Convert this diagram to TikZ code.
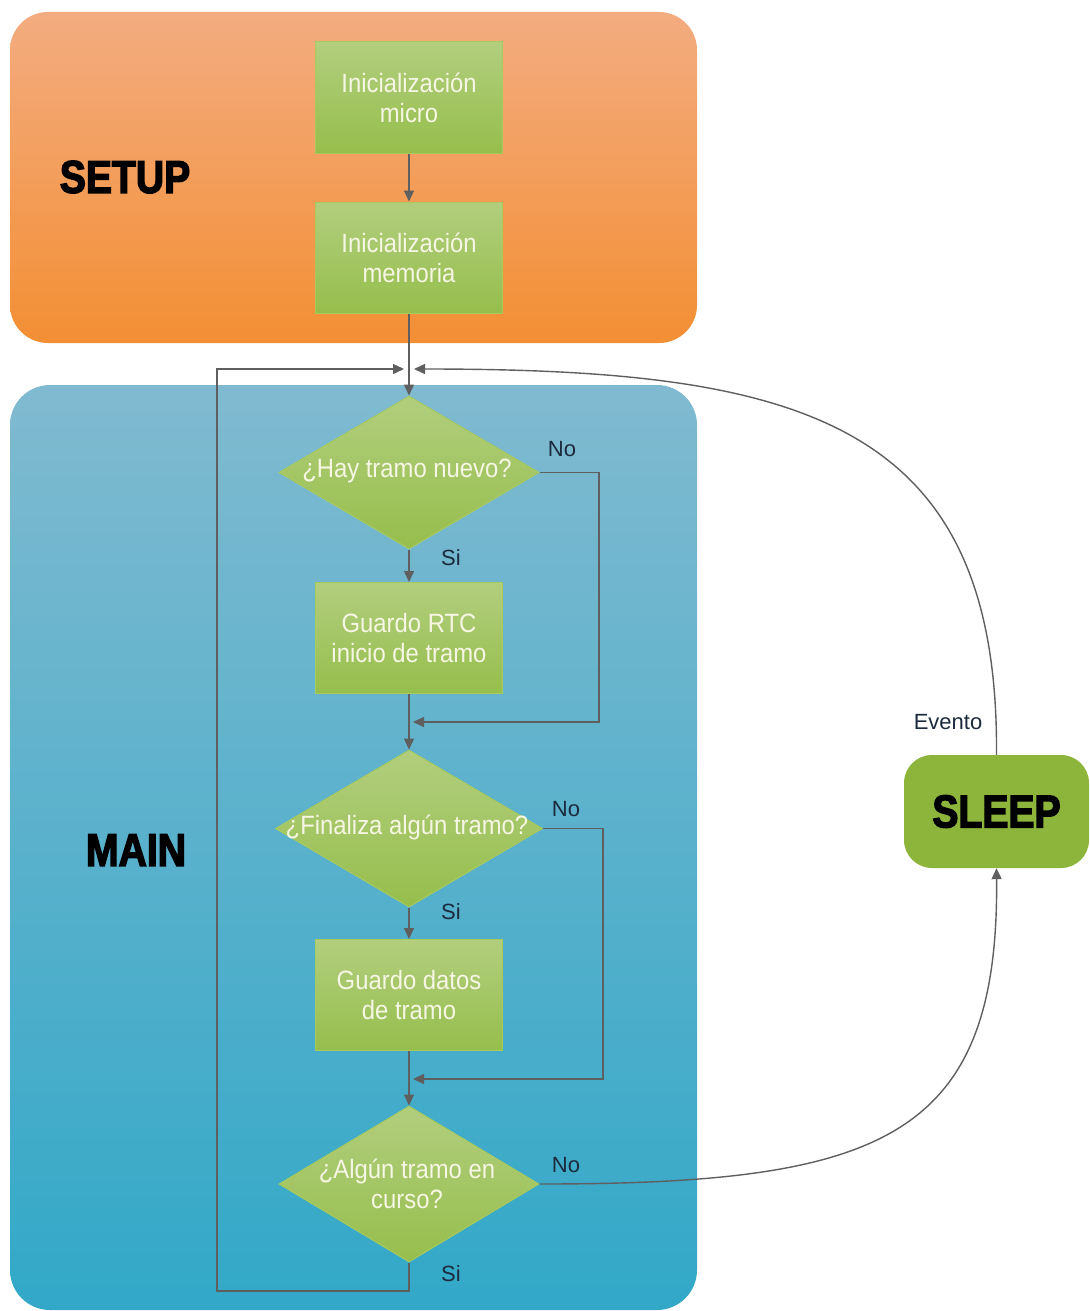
\documentclass[tikz,border=0pt]{standalone}
\usepackage{fontspec}
\setmainfont{Liberation Sans}
\newfontfamily\boxfont[FakeStretch=0.9]{Liberation Sans}
\newfontfamily\dispfont{Liberation Sans}[BoldFeatures={FakeBold=3,FakeStretch=0.85}]
\usetikzlibrary{shapes.geometric,arrows.meta}

\definecolor{orangeTop}{RGB}{243,172,128}
\definecolor{orangeBot}{RGB}{243,143,52}
\definecolor{blueTop}{RGB}{128,186,208}
\definecolor{blueBot}{RGB}{50,168,200}
\definecolor{greenTop}{RGB}{178,206,126}
\definecolor{greenBot}{RGB}{150,190,76}
\definecolor{greenEdge}{RGB}{168,202,92}
\definecolor{sleepGreen}{RGB}{141,181,60}
\definecolor{lineGray}{RGB}{95,95,95}
\definecolor{labelNavy}{RGB}{28,42,62}
\definecolor{boxText}{RGB}{246,246,228}

\tikzset{
  procbox/.style={rectangle, minimum width=187pt, minimum height=111pt,
    top color=greenTop, bottom color=greenBot, draw=greenEdge, line width=1pt,
    align=center, text=boxText, font=\boxfont\fontsize{26.5}{30}\selectfont},
  decision/.style={diamond, minimum width=#1, inner sep=0pt,
    top color=greenTop, bottom color=greenBot, draw=greenEdge, line width=1pt},
  dtext/.style={align=center, text=boxText, font=\boxfont\fontsize{26.5}{30}\selectfont},
  branchlabel/.style={text=labelNavy, font=\fontsize{22}{26}\selectfont},
  title/.style={text=black, font=\dispfont\bfseries\fontsize{46}{50}\selectfont},
  arr/.style={draw=lineGray, line width=1.4pt, -{Triangle[length=11pt,width=10pt]}},
}

\begin{document}
\begin{tikzpicture}[x=1pt,y=-1pt]
\useasboundingbox (0,0) rectangle (1089,1311);

% panels
\path[rounded corners=38pt, top color=orangeTop, bottom color=orangeBot]
  (10,12) rectangle (697,343);
\path[rounded corners=40pt, top color=blueTop, bottom color=blueBot]
  (10,385) rectangle (697,1310);

\node[title] (setup) at (125,177) {SETUP};
\node[title] (main) at (136,850) {MAIN};

% setup steps
\node[procbox] (init1) at (409,97.5) {Inicialización\\micro};
\node[procbox] (init2) at (409,257.5) {Inicialización\\memoria};

% main loop
\node[decision=260pt, minimum height=153pt] (d1) at (409,472.5) {};
\node[dtext] (d1t) at (407,471) {¿Hay tramo nuevo?};
\node[procbox] (rtc) at (409,638) {Guardo RTC\\inicio de tramo};
\node[decision=267pt, minimum height=157pt] (d2) at (409,828.5) {};
\node[dtext] (d2t) at (407,827) {¿Finaliza algún tramo?};
\node[procbox] (datos) at (409,995) {Guardo datos\\de tramo};
\node[decision=260pt, minimum height=156pt] (d3) at (409,1184) {};
\node[dtext] (d3t) at (407,1184) {¿Algún tramo en\\curso?};

% sleep state
\node[rectangle, rounded corners=28pt, fill=sleepGreen, minimum width=185pt,
  minimum height=113pt, title] (sleep) at (996.5,811.5) {SLEEP};

% routing points
\coordinate (joinL) at (404,369);
\coordinate (joinR) at (414,369);
\coordinate (m1) at (413,722);
\coordinate (m2) at (413,1079);
\coordinate (n1) at (599,472.5);
\coordinate (n2) at (603,828.5);
\coordinate (loopB) at (409,1291);
\coordinate (loopL) at (217,1291);

% connectors
\draw[arr] (init1) -- (init2);
\draw[arr] (init2) -- (d1.north);
\draw[arr] (d1.south) -- (rtc);
\draw[arr] (rtc) -- (d2.north);
\draw[arr] (d2.south) -- (datos);
\draw[arr] (datos) -- (d3.north);
\draw[arr] (d1.east) -- (n1) |- (m1);
\draw[arr] (d2.east) -- (n2) |- (m2);
\draw[arr] (d3.south) -- (loopB) -- (loopL) |- (joinL);
\draw[arr] (d3.east) .. controls (880,1184) and (999,1140) .. (sleep.south);
\draw[arr] (sleep.north) .. controls (999,420) and (800,369) .. (joinR);

% branch labels
\node[branchlabel] (no1) at (562,449) {No};
\node[branchlabel] (si1) at (451,558) {Si};
\node[branchlabel] (no2) at (566,809) {No};
\node[branchlabel] (si2) at (451,912) {Si};
\node[branchlabel] (no3) at (566,1165) {No};
\node[branchlabel] (si3) at (451,1274) {Si};
\node[branchlabel, fill=white, inner sep=2pt] (evento) at (948,722) {Evento};
\end{tikzpicture}
\end{document}
